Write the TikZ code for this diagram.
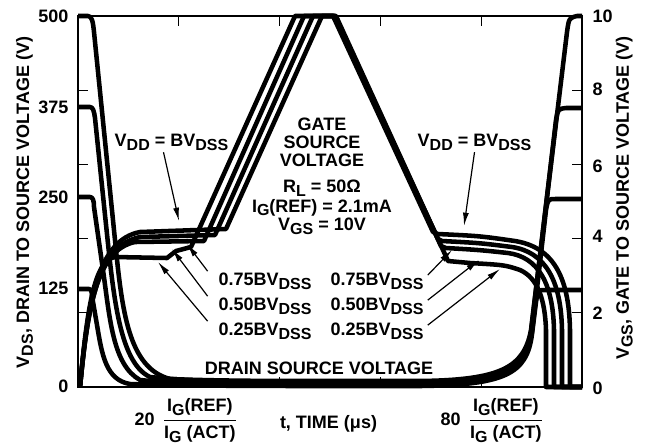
\documentclass[tikz,border=0pt]{standalone}
\usepackage{fontspec}
\usepackage{amsmath}
\setmainfont{Liberation Sans}
\usetikzlibrary{arrows.meta}
\newcommand{\sbs}[1]{\raisebox{-2.8pt}{\fontsize{12}{12}\selectfont #1}}
\tikzset{
  lbl/.style = {font=\fontsize{13.5}{16}\selectfont\bfseries, inner sep=1pt},
  wave/.style = {line width=3.4pt, line join=round},
  frame/.style = {line width=1pt},
  pointer/.style = {draw, line width=0.9pt, -{Latex[length=10pt,width=4.5pt]}}
}
\begin{document}
\begin{tikzpicture}[x=0.75pt, y=-0.75pt]
\useasboundingbox (0,0) rectangle (652,444);
\draw[frame] (78,16) rectangle (582,387);
\foreach \y in {90.2,164.4,238.6,312.8} {
  \draw[frame] (78,\y) -- (88,\y);
  \draw[frame] (572,\y) -- (582,\y);
}
\foreach \x in {178.8,279.6,380.4,481.2} {
  \draw[frame] (\x,16) -- (\x,26);
  \draw[frame] (\x,387) -- (\x,377);
}
\draw[wave] (78,16) -- (88,16) .. controls (92,16) and (93,22) .. (94,32) -- (115,240)
  .. controls (122,310) and (128,368) .. (170,379) .. controls (220,381) and (280,381) .. (330,381)
  -- (420,381) .. controls (500,380) and (524,368) .. (531,330) -- (567,32)
  .. controls (569,18) .. (577,16) -- (582,16);
\draw[wave] (78,107) -- (90,107) .. controls (93,107) and (94,111) .. (95,118) -- (105,215)
  .. controls (113,290) and (118,362) .. (150,377) .. controls (210,383) and (280,383) .. (330,383)
  -- (420,383) .. controls (502,382) and (525,370) .. (531,332) -- (556,120)
  .. controls (558,109) .. (566,108) -- (582,108);
\draw[wave] (78,197) -- (90,197) .. controls (93,197) and (94,201) .. (94,207) -- (103,270)
  .. controls (110,320) and (113,365) .. (140,380) .. controls (190,385) and (280,385) .. (330,385)
  -- (420,385) .. controls (504,384) and (526,372) .. (532,332) -- (546,210)
  .. controls (548,199) .. (556,199) -- (582,199);
\draw[wave] (78,289) -- (89,289) .. controls (91,289) and (92,292) .. (92,296) -- (97,325)
  .. controls (102,355) and (106,380) .. (130,384) .. controls (180,386) and (280,386) .. (330,386)
  -- (420,386) .. controls (505,385) and (527,374) .. (532,334) -- (536,302)
  .. controls (538,290) .. (546,290) -- (582,290);
\draw[wave] (80,387) .. controls (88,300) and (98,240) .. (140,232) -- (226,229) -- (322,16) -- (333,16)
  -- (433,232) -- (438,234) .. controls (480,236) .. (515,241)
  .. controls (552,247) and (569,275) .. (570,330) -- (570,387) -- (582,387);
\draw[wave] (80,387) .. controls (88,302) and (98,246) .. (140,237) -- (215,235) -- (313,16) -- (334,16)
  -- (438,239) -- (442,241) .. controls (480,243) .. (512,247)
  .. controls (545,252) and (561,280) .. (562,330) -- (562,387) -- (582,387);
\draw[wave] (80,387) .. controls (88,305) and (97,250) .. (135,242) -- (204,241) -- (304,16) -- (335,16)
  -- (441,246) -- (446,248) .. controls (480,250) .. (508,253)
  .. controls (538,257) and (553,283) .. (554,330) -- (554,387) -- (582,387);
\draw[wave] (80,387) .. controls (87,310) and (94,260) .. (115,257) -- (167,258) -- (176,251) -- (191,247) -- (295,16) -- (336,16)
  -- (443,250) -- (448,261) -- (470,263) .. controls (505,265) .. (520,270)
  .. controls (538,278) and (545,300) .. (546,330) -- (546,387) -- (582,387);
\begin{scope}[every node/.style = {lbl}]
\node[anchor=east] (v500) at (70,16) {500};
\node[anchor=east] (v375) at (70,107) {375};
\node[anchor=east] (v250) at (70,197.5) {250};
\node[anchor=east] (v125) at (70,288) {125};
\node[anchor=east] (v0) at (70,386) {0};
\node[anchor=west] (g10) at (591,16) {10};
\node[anchor=west] (g8) at (591,89) {8};
\node[anchor=west] (g6) at (591,166) {6};
\node[anchor=west] (g4) at (591,236) {4};
\node[anchor=west] (g2) at (591,313) {2};
\node[anchor=west] (g0) at (591,388) {0};
\node[rotate=90] (vdsax) at (24.5,202.5) {V\sbs{DS}, DRAIN TO SOURCE VOLTAGE (V)};
\node[rotate=90] (vgsax) at (624.3,198) {V\sbs{GS}, GATE TO SOURCE VOLTAGE (V)};
\node[anchor=base] (gate) at (322,130) {GATE};
\node[anchor=base] (source) at (322,148) {SOURCE};
\node[anchor=base] (volt) at (322,166) {VOLTAGE};
\node[anchor=base, inner sep=0.5pt] (rl) at (322,192.5) {R\sbs{L} = 50Ω};
\node[anchor=base, inner sep=0.5pt] (igref) at (322,212) {I\sbs{G}(REF) = 2.1mA};
\node[anchor=base, inner sep=0.5pt] (vgs) at (322,230.5) {V\sbs{GS} = 10V};
\node[anchor=base] (dsv) at (319,374) {DRAIN SOURCE VOLTAGE};
\node[anchor=base] (vddL) at (171.5,146.7) {V\sbs{DD} = BV\sbs{DSS}};
\node[anchor=base] (vddR) at (474.5,146.7) {V\sbs{DD} = BV\sbs{DSS}};
\node[anchor=base] (onA) at (265,285.3) {0.75BV\sbs{DSS}};
\node[anchor=base] (onB) at (265,310.3) {0.50BV\sbs{DSS}};
\node[anchor=base] (onC) at (265,335.3) {0.25BV\sbs{DSS}};
\node[anchor=base] (offA) at (377,285.3) {0.75BV\sbs{DSS}};
\node[anchor=base] (offB) at (377,310.3) {0.50BV\sbs{DSS}};
\node[anchor=base] (offC) at (377,335.3) {0.25BV\sbs{DSS}};
\node[anchor=base] (time) at (328.5,428.5) {t, TIME (μs)};
\node[anchor=base west] (ton) at (133,425.3) {20\hspace{6pt}$\genfrac{}{}{1pt}{0}{\hbox{I\sbs{G}(REF)}}{\hbox{I\sbs{G} (ACT)}}$};
\node[anchor=base west] (toff) at (439,425.3) {80\hspace{6pt}$\genfrac{}{}{1pt}{0}{\hbox{I\sbs{G}(REF)}}{\hbox{I\sbs{G} (ACT)}}$};
\end{scope}
\coordinate (tipL) at (179,221);
\coordinate (tipR) at (464,226);
\coordinate (tonA) at (187,244);
\coordinate (tonB) at (172,249);
\coordinate (tonC) at (158,262);
\coordinate (toffA) at (452,250);
\coordinate (toffB) at (479,260);
\coordinate (toffC) at (500,269);
\begin{scope}[every edge/.style = {pointer}]
\path ([xshift=-6pt]vddL.south) edge (tipL);
\path (vddR.south) edge (tipR);
\path ([xshift=-7pt]onA.north west) edge (tonA);
\path ([xshift=-7pt]onB.north west) edge (tonB);
\path ([xshift=-7pt]onC.north west) edge (tonC);
\path ([xshift=2pt,yshift=-3pt]offA.north east) edge (toffA);
\path ([xshift=2pt,yshift=-3pt]offB.north east) edge (toffB);
\path ([xshift=2pt,yshift=-3pt]offC.north east) edge (toffC);
\end{scope}
\end{tikzpicture}
\end{document}
